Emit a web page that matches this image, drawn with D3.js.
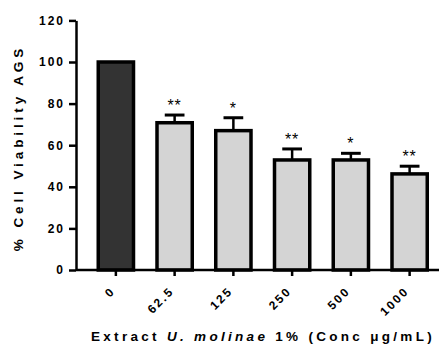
<!DOCTYPE html>
<html>
<head>
<meta charset="utf-8">
<script src="https://cdn.jsdelivr.net/npm/d3@7"></script>
<style>
  body { margin: 0; background: #fff; }
  text { font-family: "Liberation Sans", Arial, sans-serif; font-weight: bold; }
</style>
</head>
<body>
<div id="chart-area"></div>
<script>
// dados
const categories = ["0", "62.5", "125", "250", "500", "1000"]
const means = [100, 70.8, 67, 52.9, 52.9, 46.2]
const errors = [0, 3.7, 6.2, 5.3, 3.2, 3.7]
const stars = ["", "**", "*", "**", "*", "**"]
const yTicks = [0, 20, 40, 60, 80, 100, 120]

const W = 447, H = 349
const LEFT = 76, BASE = 270, TOP = 20.4, RIGHT = 439

const svg = d3.select("#chart-area").append("svg")
  .attr("width", W)
  .attr("height", H)

const data = categories.map((c, i) => ({ cat: c, mean: means[i], err: errors[i], star: stars[i] }))

// escalas
const x = d3.scaleBand()
  .domain(categories)
  .range([86.5, RIGHT])
  .paddingInner(0.4)
  .paddingOuter(0.2)

const y = d3.scaleLinear()
  .domain([0, 120])
  .range([BASE, TOP])

// barras
svg.selectAll("rect.bar")
  .data(data)
  .enter().append("rect")
  .attr("class", "bar")
  .attr("x", d => x(d.cat))
  .attr("y", d => y(d.mean))
  .attr("width", x.bandwidth())
  .attr("height", d => BASE - y(d.mean))
  .attr("fill", (d, i) => i === 0 ? "#333333" : "#d4d4d4")
  .attr("stroke", "#000")
  .attr("stroke-width", 3.5)

// barras de erro
const cap = x.bandwidth() * 0.28
const eb = svg.selectAll("g.err")
  .data(data.filter(d => d.err > 0))
  .enter().append("g")
  .attr("class", "err")
eb.append("line")
  .attr("x1", d => x(d.cat) + x.bandwidth() / 2)
  .attr("x2", d => x(d.cat) + x.bandwidth() / 2)
  .attr("y1", d => y(d.mean))
  .attr("y2", d => y(d.mean + d.err))
  .attr("stroke", "#000").attr("stroke-width", 2.5)
eb.append("line")
  .attr("x1", d => x(d.cat) + x.bandwidth() / 2 - cap)
  .attr("x2", d => x(d.cat) + x.bandwidth() / 2 + cap)
  .attr("y1", d => y(d.mean + d.err))
  .attr("y2", d => y(d.mean + d.err))
  .attr("stroke", "#000").attr("stroke-width", 3)

// asteriscos
svg.selectAll("text.star")
  .data(data.filter(d => d.star))
  .enter().append("text")
  .attr("class", "star")
  .attr("x", d => x(d.cat) + x.bandwidth() / 2)
  .attr("y", d => y(d.mean + d.err) - 4)
  .attr("text-anchor", "middle")
  .attr("font-size", "16px")
  .style("font-weight", "normal")
  .attr("fill", "#000")
  .attr("letter-spacing", "1px")
  .text(d => d.star)

// eixo Y
const yAxis = svg.append("g")
  .attr("transform", `translate(${LEFT}, 0)`)
  .call(d3.axisLeft(y).tickValues(yTicks).tickSize(7).tickPadding(4).tickSizeOuter(0))
yAxis.select(".domain").attr("stroke-width", 2.5)
yAxis.selectAll(".tick line").attr("stroke-width", 2.5)
yAxis.selectAll("text")
  .attr("font-size", "12px")
  .attr("letter-spacing", "2px")
  .attr("fill", "#000")

// eixo X
const xAxis = svg.append("g")
  .attr("transform", `translate(0, ${BASE})`)
  .call(d3.axisBottom(x).tickSize(6).tickSizeOuter(0))
xAxis.select(".domain").attr("d", `M${LEFT},0H${RIGHT}`).attr("stroke-width", 2.5)
xAxis.selectAll(".tick line").attr("stroke-width", 2.5)
xAxis.selectAll("text")
  .attr("x", 0)
  .attr("y", 0)
  .attr("dy", "0.35em")
  .attr("text-anchor", "end")
  .attr("transform", "translate(-3, 19) rotate(-45)")
  .attr("font-size", "12px")
  .attr("letter-spacing", "2px")
  .attr("fill", "#000")

// titulos dos eixos
svg.append("text")
  .attr("x", -148)
  .attr("y", 23)
  .attr("transform", "rotate(-90)")
  .attr("text-anchor", "middle")
  .attr("font-size", "13.5px")
  .attr("letter-spacing", "3.9px")
  .text("% Cell Viability AGS")

const xl = svg.append("text")
  .attr("x", 263)
  .attr("y", 341)
  .attr("text-anchor", "middle")
  .attr("font-size", "13.5px")
  .attr("letter-spacing", "3.3px")
xl.append("tspan").text("Extract ")
xl.append("tspan").attr("font-style", "italic").text("U. molinae")
xl.append("tspan").text(" 1% (Conc μg/mL)")
</script>
</body>
</html>
